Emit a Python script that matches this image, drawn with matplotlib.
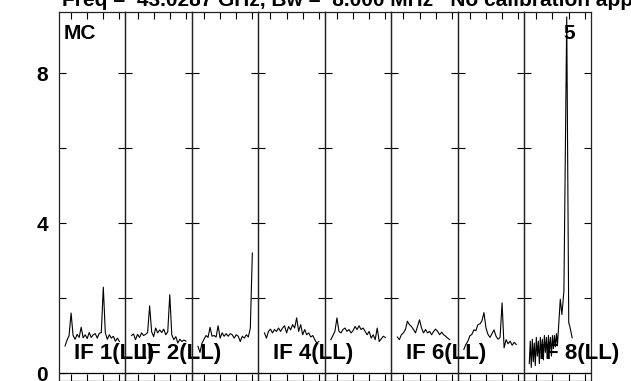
import numpy as np
import matplotlib
matplotlib.use("Agg")
import matplotlib.pyplot as plt

plt.rcParams['font.family'] = ['Liberation Sans', 'DejaVu Sans']
plt.rcParams['font.weight'] = 'bold'

# amplitude per channel for each IF
if1 = [0.72, 0.88, 1.0, 1.6, 1.0, 0.9, 1.03, 0.95, 1.22, 0.94, 1.02, 0.92, 1.08, 0.95,
       1.02, 1.05, 0.93, 1.06, 1.08, 2.29, 1.07, 0.9, 1.02, 0.93, 0.98, 0.85, 0.93, 0.84]
if2 = [1.0, 1.04, 0.89, 1.03, 0.95, 1.07, 1.0, 1.03, 1.08, 1.79, 1.1, 0.97, 1.2, 1.07,
       1.15, 1.08, 1.17, 1.02, 1.1, 2.09, 1.02, 0.89, 0.97, 0.8, 0.9, 0.84, 0.88, 0.85]
if3 = [0.71, 0.55, 0.8, 0.9, 1.0, 0.95, 1.22, 0.98, 1.0, 0.96, 1.26, 0.93, 1.07, 0.98,
       1.05, 0.98, 1.05, 1.02, 0.93, 1.02, 0.98, 0.84, 0.98, 0.93, 1.02, 0.96, 1.2, 3.2]
if4 = [1.07, 0.93, 1.11, 1.17, 1.07, 1.16, 1.11, 1.2, 1.11, 1.2, 1.26, 1.07, 1.24, 1.15,
       1.29, 1.2, 1.47, 1.11, 1.29, 1.02, 1.16, 1.02, 1.07, 0.96, 1.0, 0.89, 0.8, 0.84]
if5 = [0.89, 1.0, 1.11, 1.47, 1.11, 1.07, 1.16, 1.2, 1.11, 1.16, 1.07, 1.13, 1.24, 1.16,
       1.26, 1.16, 1.2, 1.11, 1.02, 1.11, 0.93, 1.02, 0.89, 1.2, 0.84, 0.91, 0.98, 0.95]
if6 = [0.96, 0.89, 1.02, 1.07, 1.16, 1.38, 1.29, 1.24, 1.16, 1.07, 1.24, 1.42, 1.2, 1.07,
       1.16, 1.07, 1.11, 1.02, 1.11, 1.17, 1.11, 1.02, 1.09, 1.02, 0.98, 0.93, 0.89]
if7 = [0.63, 0.76, 0.85, 0.99, 1.03, 1.15, 1.13, 1.29, 1.31, 1.39, 1.61, 1.2, 1.03, 0.95,
       1.05, 1.15, 0.98, 0.9, 0.95, 1.87, 0.67, 0.89, 0.78, 0.85, 0.74, 0.82, 0.76]
chan8 = [2.5, 3, 3.5, 4, 4.5, 5, 5.5, 6, 6.5, 7, 7.5, 8, 8.5, 9, 9.5, 10, 10.5, 11, 11.5,
         12, 12.5, 13, 13.5, 14, 14.5, 15, 15.5, 16, 16.5, 17.9, 18.7, 19.7, 21.1, 22.1,
         22.6, 23.8]
if8 = [0.25, 0.85, 0.15, 0.9, 0.3, 0.8, 0.2, 0.95, 0.45, 0.85, 0.25, 0.95, 0.5, 0.9, 0.35,
       1.0, 0.55, 0.95, 0.4, 1.0, 0.6, 0.95, 0.45, 1.0, 0.65, 1.0, 0.7, 1.05, 0.75,
       1.97, 1.56, 2.19, 9.5, 1.34, 1.25, 0.94]

series = [if1, if2, if3, if4, if5, if6, if7, if8]
labels = ["IF 1(LL)", "IF 2(LL)", None, "IF 4(LL)", None, "IF 6(LL)", None, "IF 8(LL)"]
title = "Freq =  43.0287 GHz, Bw =  8.000 MHz   No calibration applied"

fig = plt.figure(figsize=(6.31, 3.81), dpi=100)
gs = fig.add_gridspec(1, 8, left=59/631, right=590.7/631, top=1-12/381,
                      bottom=1-380.5/381, wspace=0)
axes = [fig.add_subplot(gs[0, i]) for i in range(8)]

for i, ax in enumerate(axes):
    ax.patch.set_visible(False)
    vals = series[i]
    if i == 7:
        x = chan8
    else:
        x = np.arange(3, 3 + len(vals))
    ax.plot(x, vals, "-", color="k", lw=0.8)
    ax.axhline(0, color="k", lw=0.9)
    ax.set_xlim(0, 33)
    ax.set_ylim(-0.2, 9.63)
    ax.set_xticks([6, 14, 22, 30])
    ax.set_xticklabels([])
    ax.set_yticks([0, 2, 4, 6, 8])
    ax.tick_params(direction="in", length=5, width=0.8, top=True, right=True,
                   bottom=True, left=True, labelbottom=False)
    for s in ax.spines.values():
        s.set_linewidth(0.9)
        s.set_color("#222222")
    if i == 0:
        ax.set_yticklabels(["0", "", "4", "", "8"], fontsize=15, fontweight="bold")
        ax.tick_params(axis="y", pad=8)
    else:
        ax.set_yticklabels([])
    if labels[i]:
        ax.text(7.5, 0.37, labels[i], fontsize=16, fontweight="bold",
                ha="left", va="baseline", clip_on=False)

axes[0].text(2.5, 8.9, "MC", fontsize=15, fontweight="bold", ha="left", va="baseline")
axes[7].text(19.2, 8.9, "5", fontsize=15, fontweight="bold", ha="left", va="baseline")

# title sits mostly above the canvas, as in the reference
fig.text(62/631, 1 - 6/381, title, fontsize=15, fontweight="bold",
         ha="left", va="baseline")

fig.savefig("out.png", dpi=100)
